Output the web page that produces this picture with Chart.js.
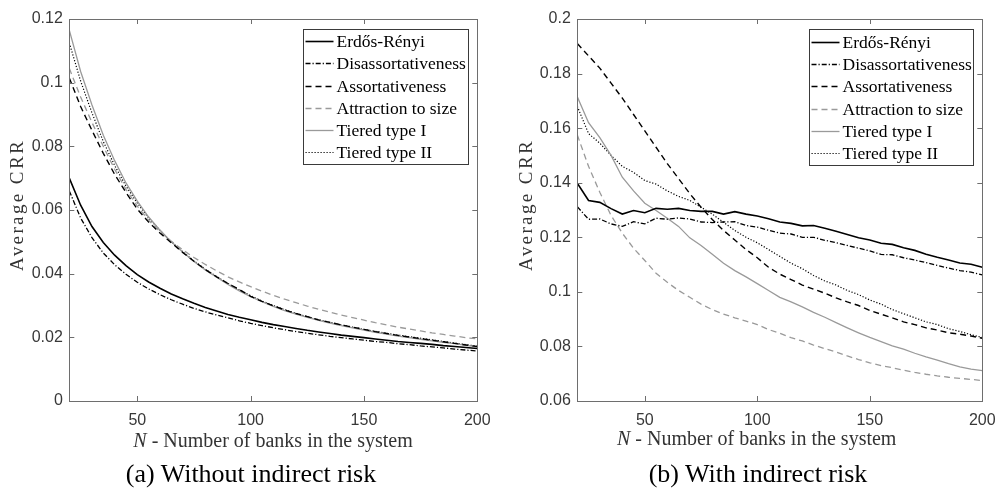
<!DOCTYPE html>
<html><head><meta charset="utf-8">
<script src="https://cdn.jsdelivr.net/npm/chart.js@4"></script>
<style>
html,body{margin:0;padding:0;background:#fff;width:995px;height:490px;overflow:hidden;}
#ca{position:absolute;left:0;top:0;}
#cb{position:absolute;left:495px;top:0;}
.cap{position:absolute;top:458px;font-family:"Liberation Serif","Times New Roman",serif;font-size:26px;color:#000;white-space:nowrap;transform:translateX(-50%);line-height:32px;}
</style></head>
<body>
<canvas id="ca" width="495" height="460"></canvas>
<canvas id="cb" width="500" height="460"></canvas>
<div class="cap" style="left:251px">(a) Without indirect risk</div>
<div class="cap" style="left:758px">(b) With indirect risk</div>
<script>
// ---- data ----
const N = [20,25,30,35,40,45,50,55,60,65,70,75,80,85,90,95,100,105,110,115,120,125,130,135,140,145,150,155,160,165,170,175,180,185,190,195,200];
const seriesNames = ["Erdős-Rényi","Disassortativeness","Assortativeness","Attraction to size","Tiered type I","Tiered type II"];

// (a) Without indirect risk
const erA  = [0.0700,0.0615,0.0548,0.0498,0.0458,0.0425,0.0397,0.0374,0.0354,0.0336,0.0321,0.0307,0.0294,0.0283,0.0272,0.0263,0.0255,0.0247,0.0240,0.0234,0.0228,0.0222,0.0217,0.0212,0.0207,0.0203,0.0199,0.0195,0.0191,0.0187,0.0184,0.0181,0.0178,0.0174,0.0171,0.0168,0.0165];
const disA = [0.0660,0.0575,0.0513,0.0465,0.0428,0.0398,0.0373,0.0352,0.0334,0.0318,0.0304,0.0291,0.0280,0.0270,0.0261,0.0252,0.0244,0.0237,0.0230,0.0224,0.0218,0.0213,0.0208,0.0203,0.0199,0.0195,0.0191,0.0187,0.0184,0.0180,0.0177,0.0173,0.0170,0.0167,0.0163,0.0160,0.0157];
const assA = [0.1015,0.0925,0.0850,0.0778,0.0712,0.0655,0.0603,0.0562,0.0528,0.0497,0.0467,0.0439,0.0413,0.0390,0.0369,0.0350,0.0329,0.0313,0.0299,0.0286,0.0275,0.0265,0.0255,0.0247,0.0239,0.0232,0.0225,0.0218,0.0212,0.0206,0.0201,0.0196,0.0191,0.0186,0.0181,0.0176,0.0171];
const attA = [0.1045,0.0955,0.0875,0.0800,0.0728,0.0665,0.0612,0.0568,0.0532,0.0502,0.0475,0.0451,0.0429,0.0409,0.0390,0.0374,0.0359,0.0345,0.0332,0.0320,0.0309,0.0298,0.0288,0.0279,0.0270,0.0262,0.0254,0.0246,0.0239,0.0232,0.0226,0.0220,0.0214,0.0209,0.0204,0.0199,0.0195];
const t1A  = [0.1165,0.1035,0.0930,0.0835,0.0755,0.0685,0.0628,0.0578,0.0537,0.0500,0.0468,0.0438,0.0412,0.0389,0.0366,0.0346,0.0328,0.0312,0.0297,0.0284,0.0273,0.0263,0.0253,0.0245,0.0237,0.0230,0.0223,0.0216,0.0210,0.0204,0.0199,0.0194,0.0189,0.0184,0.0180,0.0175,0.0170];
const t2A  = [0.1125,0.1005,0.0905,0.0815,0.0740,0.0675,0.0622,0.0575,0.0536,0.0500,0.0469,0.0440,0.0414,0.0391,0.0369,0.0349,0.0331,0.0314,0.0300,0.0287,0.0275,0.0265,0.0255,0.0247,0.0239,0.0232,0.0225,0.0219,0.0213,0.0207,0.0202,0.0197,0.0192,0.0187,0.0182,0.0177,0.0172];

// (b) With indirect risk
const erB  = [0.1398,0.1335,0.1328,0.1305,0.1285,0.1298,0.1290,0.1306,0.1303,0.1306,0.1298,0.1295,0.1295,0.1285,0.1294,0.1285,0.1278,0.1268,0.1256,0.1251,0.1242,0.1243,0.1233,0.1222,0.1210,0.1198,0.1190,0.1178,0.1174,0.1162,0.1152,0.1138,0.1127,0.1117,0.1106,0.1101,0.1090];
const disB = [0.1312,0.1266,0.1267,0.1249,0.1240,0.1257,0.1249,0.1270,0.1266,0.1271,0.1267,0.1256,0.1254,0.1256,0.1257,0.1243,0.1237,0.1226,0.1215,0.1212,0.1200,0.1200,0.1189,0.1180,0.1170,0.1160,0.1150,0.1137,0.1136,0.1125,0.1117,0.1107,0.1097,0.1087,0.1078,0.1072,0.1062];
const assB = [0.1910,0.1865,0.1820,0.1765,0.1710,0.1650,0.1590,0.1530,0.1470,0.1415,0.1360,0.1310,0.1265,0.1225,0.1190,0.1155,0.1125,0.1090,0.1065,0.1045,0.1025,0.1010,0.0995,0.0978,0.0963,0.0950,0.0932,0.0918,0.0905,0.0890,0.0880,0.0868,0.0860,0.0850,0.0845,0.0838,0.0830];
const attB = [0.1575,0.1460,0.1365,0.1280,0.1215,0.1160,0.1115,0.1068,0.1035,0.1005,0.0980,0.0955,0.0935,0.0918,0.0905,0.0893,0.0880,0.0862,0.0848,0.0832,0.0820,0.0805,0.0792,0.0780,0.0765,0.0752,0.0740,0.0730,0.0722,0.0713,0.0705,0.0698,0.0692,0.0687,0.0683,0.0679,0.0675];
const t1B  = [0.1715,0.1620,0.1565,0.1500,0.1420,0.1370,0.1325,0.1298,0.1270,0.1240,0.1198,0.1170,0.1138,0.1105,0.1078,0.1055,0.1030,0.1005,0.0980,0.0963,0.0945,0.0925,0.0907,0.0887,0.0868,0.0850,0.0833,0.0818,0.0802,0.0790,0.0775,0.0762,0.0750,0.0737,0.0725,0.0717,0.0711];
const t2B  = [0.1680,0.1580,0.1545,0.1500,0.1460,0.1438,0.1408,0.1395,0.1370,0.1350,0.1335,0.1310,0.1285,0.1255,0.1225,0.1200,0.1180,0.1155,0.1130,0.1105,0.1085,0.1060,0.1040,0.1025,0.1005,0.0990,0.0970,0.0955,0.0935,0.0920,0.0905,0.0890,0.0880,0.0865,0.0855,0.0843,0.0833];

// ticks
const xTicks  = [50,100,150,200];
const yTicksA = [0,0.02,0.04,0.06,0.08,0.1,0.12];
const yTicksB = [0.06,0.08,0.1,0.12,0.14,0.16,0.18,0.2];
const yTitle = "Average CRR";
const xTitleVar = "N";
const xTitleRest = " - Number of banks in the system";

// ---- styles ----
const styles = [
  {color:'#000000', width:1.6, dash:[]},
  {color:'#000000', width:1.3, dash:[5,2,1.2,2]},
  {color:'#000000', width:1.4, dash:[6,4]},
  {color:'#9a9a9a', width:1.3, dash:[6,4]},
  {color:'#9a9a9a', width:1.3, dash:[]},
  {color:'#000000', width:1.2, dash:[1.2,1.8]}
];
const AXIS_COLOR = '#6e6e6e';
const TICK_FONT = {family:'"Liberation Sans", Arial, sans-serif', size:16};

function makeDatasets(arrs){
  return arrs.map((arr,i)=>({
    label: seriesNames[i],
    data: N.map((n,k)=>({x:n, y:arr[k]})),
    borderColor: styles[i].color,
    borderWidth: styles[i].width,
    borderDash: styles[i].dash,
    pointRadius: 0,
    fill: false,
    tension: 0
  }));
}

const framePlugin = {
  id: 'frame',
  afterDatasetsDraw(chart, args, o){
    const {ctx, chartArea:a, scales} = chart;
    ctx.save();
    ctx.strokeStyle = AXIS_COLOR; ctx.lineWidth = 1; ctx.setLineDash([]);
    const L = 5;
    ctx.beginPath();
    scales.x.ticks.forEach(t=>{
      const px = Math.round(scales.x.getPixelForValue(t.value))+0.5;
      ctx.moveTo(px, a.bottom); ctx.lineTo(px, a.bottom-L);
      ctx.moveTo(px, a.top); ctx.lineTo(px, a.top+L);
    });
    scales.y.ticks.forEach(t=>{
      const py = Math.round(scales.y.getPixelForValue(t.value))+0.5;
      ctx.moveTo(a.left, py); ctx.lineTo(a.left+L, py);
      ctx.moveTo(a.right, py); ctx.lineTo(a.right-L, py);
    });
    ctx.stroke();
    ctx.strokeRect(Math.round(a.left)+0.5, Math.round(a.top)+0.5, Math.round(a.right)-Math.round(a.left), Math.round(a.bottom)-Math.round(a.top));
    ctx.restore();

    // legend box
    const lg = o.legend;
    const bx = Math.round(a.right - lg.right - lg.w)+0.5, by = Math.round(a.top + lg.top)+0.5;
    ctx.save();
    ctx.fillStyle = '#fff';
    ctx.fillRect(bx, by, lg.w, lg.h);
    ctx.strokeStyle = '#3a3a3a'; ctx.lineWidth = 1;
    ctx.strokeRect(bx, by, lg.w, lg.h);
    ctx.font = '17.5px "Liberation Serif", "Times New Roman", serif';
    ctx.textBaseline = 'middle'; ctx.textAlign = 'left';
    chart.data.datasets.forEach((ds,i)=>{
      const y = Math.round(by + lg.first + i*lg.row)+0.5;
      ctx.strokeStyle = ds.borderColor; ctx.lineWidth = ds.borderWidth;
      ctx.setLineDash(ds.borderDash);
      ctx.beginPath(); ctx.moveTo(bx+2, y); ctx.lineTo(bx+30, y); ctx.stroke();
      ctx.setLineDash([]);
      ctx.fillStyle = '#000';
      ctx.fillText(ds.label, bx+33, y+1);
    });
    ctx.restore();
  },
  afterDraw(chart, args, o){
    const ctx = chart.ctx;
    ctx.save();
    ctx.fillStyle = '#333';
    // y title
    ctx.translate(o.yTitleX, o.yTitleY);
    ctx.rotate(-Math.PI/2);
    ctx.font = '19px "Liberation Serif", "Times New Roman", serif';
    ctx.letterSpacing = '2.4px';
    ctx.textAlign = 'center'; ctx.textBaseline = 'middle';
    ctx.fillText(yTitle, 0, 0);
    ctx.restore();
    ctx.save();
    ctx.fillStyle = '#333';
    ctx.textBaseline = 'middle'; ctx.textAlign = 'left';
    const fI = 'italic 20px "Liberation Serif", "Times New Roman", serif';
    const fR = '20px "Liberation Serif", "Times New Roman", serif';
    ctx.font = fI; const w1 = ctx.measureText(xTitleVar).width;
    ctx.font = fR; const w2 = ctx.measureText(xTitleRest).width;
    const x0 = o.xTitleX - (w1+w2)/2;
    ctx.font = fI; ctx.fillText(xTitleVar, x0, o.xTitleY);
    ctx.font = fR; ctx.fillText(xTitleRest, x0+w1, o.xTitleY);
    ctx.restore();
  }
};

function fmt(v){ return String(+Number(v).toFixed(2)); }

function makeChart(id, arrs, ymin, ymax, yTicks, yAxisW, padRight, frameOpts){
  return new Chart(document.getElementById(id), {
    type: 'line',
    data: { datasets: makeDatasets(arrs) },
    options: {
      responsive: false, animation: false, devicePixelRatio: 1,
      layout: { padding: {left:0, right:padRight, top:19, bottom:0} },
      plugins: { legend:{display:false}, tooltip:{enabled:false}, frame: frameOpts },
      scales: {
        x: {
          type:'linear', min:20, max:200,
          grid:{display:false, drawTicks:false}, border:{display:false},
          afterBuildTicks: s => { s.ticks = xTicks.map(v=>({value:v})); },
          afterFit: s => { s.height = 59; s.paddingLeft = 0; s.paddingRight = 0; },
          ticks:{ font:TICK_FONT, color:'#383838', padding:10, maxRotation:0, autoSkip:false, callback: v=>fmt(v) }
        },
        y: {
          type:'linear', min:ymin, max:ymax,
          grid:{display:false, drawTicks:false}, border:{display:false},
          afterBuildTicks: s => { s.ticks = yTicks.map(v=>({value:v})); },
          afterFit: s => { s.width = yAxisW; s.paddingTop = 0; s.paddingBottom = 0; },
          ticks:{ font:TICK_FONT, color:'#383838', padding:6.5, autoSkip:false, callback: v=>fmt(v) }
        }
      }
    },
    plugins: [framePlugin]
  });
}

makeChart('ca', [erA,disA,assA,attA,t1A,t2A], 0, 0.12, yTicksA, 69.3, 17.7,
  {legend:{right:9, top:10, w:165, h:135, first:11.7, row:22.2}, yTitleX:18.5, yTitleY:205, xTitleX:273, xTitleY:442});
makeChart('cb', [erB,disB,assB,attB,t1B,t2B], 0.06, 0.2, yTicksB, 82.3, 12.7,
  {legend:{right:9, top:10, w:164, h:136, first:12.4, row:22.2}, yTitleX:31.7, yTitleY:205, xTitleX:261.7, xTitleY:440});
</script>
</body></html>
